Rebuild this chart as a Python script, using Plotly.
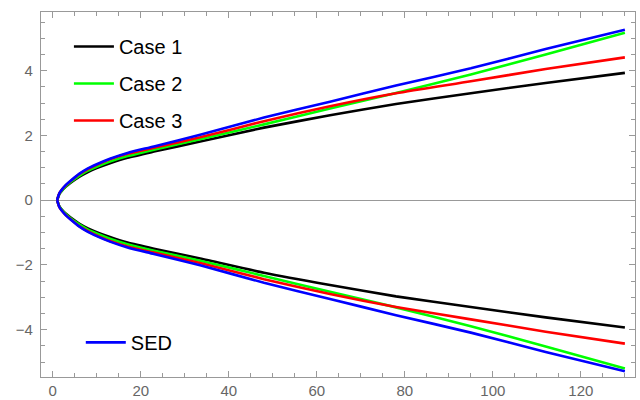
import plotly.graph_objects as go

# ---- data ----
x_vals = [1, 1.5, 2, 3, 4, 6, 8, 10, 13, 17, 23, 33.5, 48, 63, 78, 95, 112, 130]

case1_up = [0, 0.19, 0.28, 0.42, 0.53, 0.72, 0.87, 0.99, 1.14, 1.31, 1.50, 1.81, 2.24, 2.62, 2.97, 3.30, 3.62, 3.93]
case2_up = [0, 0.19, 0.28, 0.43, 0.55, 0.75, 0.91, 1.03, 1.19, 1.36, 1.56, 1.88, 2.34, 2.83, 3.31, 3.88, 4.50, 5.17]
case3_up = [0, 0.21, 0.31, 0.46, 0.58, 0.80, 0.96, 1.09, 1.26, 1.43, 1.62, 1.94, 2.44, 2.90, 3.30, 3.67, 4.05, 4.41]
sed_up   = [0, 0.21, 0.31, 0.47, 0.59, 0.81, 0.98, 1.11, 1.28, 1.46, 1.66, 2.02, 2.55, 3.04, 3.54, 4.07, 4.67, 5.26]

case1_dn = [0, -0.19, -0.28, -0.42, -0.53, -0.72, -0.87, -0.99, -1.14, -1.31, -1.50, -1.80, -2.24, -2.62, -2.97, -3.30, -3.62, -3.93]
case2_dn = [0, -0.19, -0.28, -0.43, -0.55, -0.75, -0.91, -1.03, -1.19, -1.36, -1.56, -1.87, -2.34, -2.83, -3.31, -3.89, -4.52, -5.20]
case3_dn = [0, -0.21, -0.31, -0.46, -0.58, -0.80, -0.96, -1.09, -1.26, -1.43, -1.62, -1.94, -2.44, -2.90, -3.30, -3.68, -4.06, -4.43]
sed_dn   = [0, -0.21, -0.31, -0.47, -0.59, -0.81, -0.98, -1.11, -1.28, -1.46, -1.66, -2.01, -2.55, -3.05, -3.55, -4.09, -4.69, -5.28]

names = ["Case 1", "Case 2", "Case 3", "SED"]
colors = ["#000000", "#00ff00", "#ff0000", "#0000ff"]
uppers = [case1_up, case2_up, case3_up, sed_up]
lowers = [case1_dn, case2_dn, case3_dn, sed_dn]
legends = ["legend", "legend", "legend", "legend2"]

x_ticks = [0, 20, 40, 60, 80, 100, 120]
y_ticks = [-4, -2, 0, 2, 4]
y_tick_text = ["\u22124", "\u22122", "0", "2", "4"]

fig = go.Figure()
for name, col, up, dn, lg in zip(names, colors, uppers, lowers, legends):
    fig.add_trace(go.Scatter(x=x_vals, y=up, mode="lines", name=name,
                             line=dict(color=col, width=2.6, shape="spline", smoothing=0.6),
                             legendgroup=name, legend=lg))
    fig.add_trace(go.Scatter(x=x_vals, y=dn, mode="lines", name=name, showlegend=False,
                             line=dict(color=col, width=2.6, shape="spline", smoothing=0.6),
                             legendgroup=name, legend=lg))

frame = "#999999"
tickfont = dict(family="Liberation Sans, Arial, sans-serif", size=15, color="#666666")

fig.update_layout(
    width=640, height=400,
    margin=dict(l=41, r=5, t=12, b=23, autoexpand=False),
    paper_bgcolor="white", plot_bgcolor="white",
    font=dict(family="Liberation Sans, Arial, sans-serif"),
    legend=dict(x=0.047, y=0.959, xanchor="left", yanchor="top",
                font=dict(size=20, color="black"), bgcolor="rgba(0,0,0,0)",
                tracegroupgap=8, itemwidth=40),
    legend2=dict(x=0.067, y=0.095, xanchor="left", yanchor="middle",
                 font=dict(size=20, color="black"), bgcolor="rgba(0,0,0,0)",
                 itemwidth=40),
    xaxis=dict(range=[-2.66, 132.3], tickvals=x_ticks, showgrid=False, zeroline=False,
               automargin=False,
               showline=True, linecolor=frame, linewidth=1.2, mirror="ticks",
               ticks="inside", ticklen=6, tickcolor=frame, tickwidth=1,
               minor=dict(dtick=5, tick0=0, ticks="inside", ticklen=3.5, tickcolor=frame, tickwidth=1),
               tickfont=tickfont, ticklabelstandoff=0),
    yaxis=dict(range=[-5.46, 5.81], tickvals=y_ticks, ticktext=y_tick_text, showgrid=False,
               zeroline=True, zerolinecolor=frame, zerolinewidth=1, automargin=False,
               showline=True, linecolor=frame, linewidth=1.2, mirror="ticks",
               ticks="inside", ticklen=6, tickcolor=frame, tickwidth=1,
               minor=dict(dtick=0.5, tick0=0, ticks="inside", ticklen=3.5, tickcolor=frame, tickwidth=1),
               tickfont=tickfont, ticklabelstandoff=4),
)

fig.write_html("out.html")
